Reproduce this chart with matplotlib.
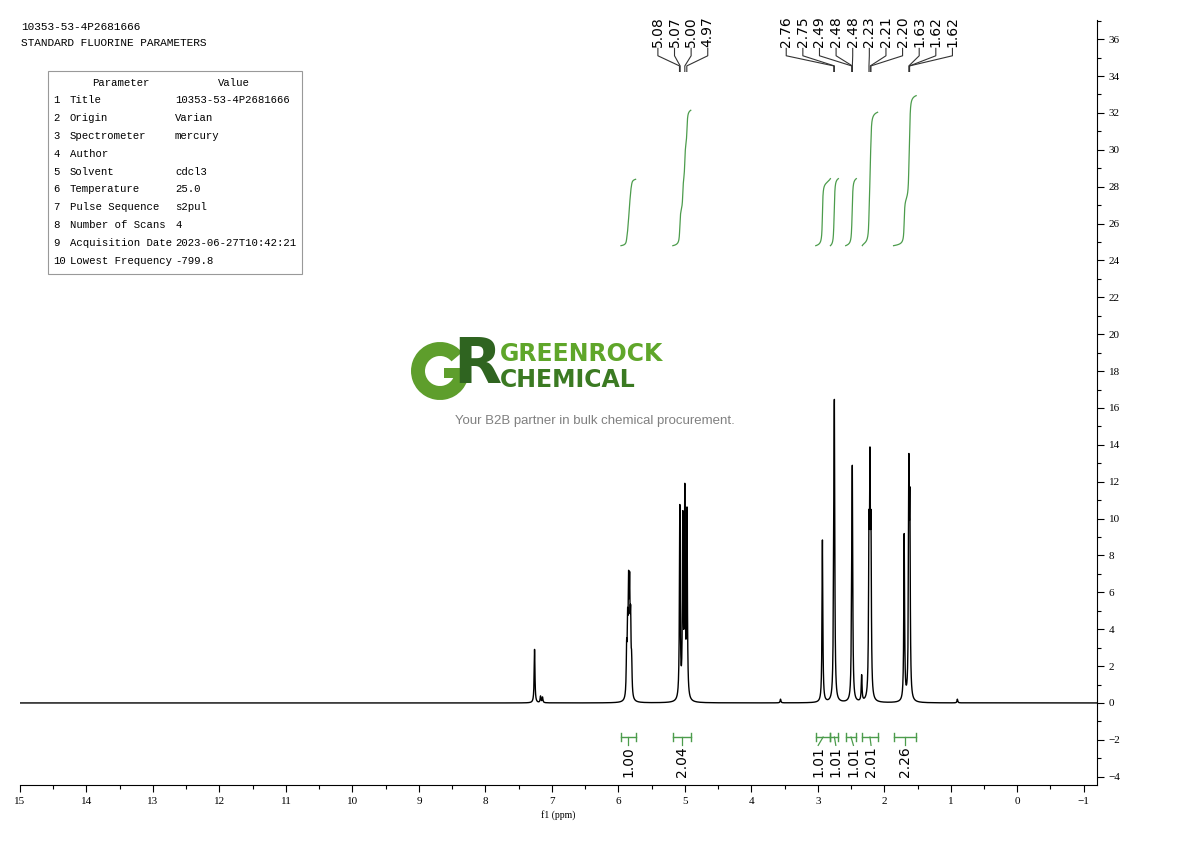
import numpy as np
import matplotlib.pyplot as plt
from matplotlib.patches import Rectangle, Wedge
from matplotlib.ticker import MultipleLocator

# peak list (ppm, height)
peak_ppm = [7.26, 7.17, 7.14, 3.56,
            5.875, 5.86, 5.845, 5.83, 5.815, 5.80,
            5.075, 5.03, 5.00, 4.967,
            2.93, 2.76, 2.75, 2.49, 2.48, 2.34,
            2.23, 2.215, 2.20, 1.70, 1.63, 1.615, 0.90]
peak_height = [2.9, 0.35, 0.3, 0.2,
               2.4, 3.4, 5.3, 5.2, 3.7, 1.7,
               10.4, 9.5, 10.9, 10.0,
               8.8, 5.7, 14.5, 4.0, 11.5, 1.4,
               8.0, 11.0, 8.0, 9.0, 11.7, 9.5, 0.2]

# labels on top (peak picking)
top_ppm = [5.08, 5.07, 5.00, 4.97, 2.76, 2.75, 2.49, 2.48, 2.48,
           2.23, 2.21, 2.20, 1.63, 1.62, 1.62]

# integral regions
int_start = [5.96, 5.18, 3.03, 2.81, 2.58, 2.33, 1.86]
int_end = [5.74, 4.91, 2.81, 2.69, 2.42, 2.10, 1.52]
int_value = [1.00, 2.04, 1.01, 1.01, 1.01, 2.01, 2.26]

param_names = ['Title', 'Origin', 'Spectrometer', 'Author', 'Solvent',
               'Temperature', 'Pulse Sequence', 'Number of Scans',
               'Acquisition Date', 'Lowest Frequency']
param_values = ['10353-53-4P2681666', 'Varian', 'mercury', '', 'cdcl3',
                '25.0', 's2pul', '4', '2023-06-27T10:42:21', '-799.8']

GREEN = '#4c9c4c'
SERIF = 'Liberation Serif'
MONO = 'Liberation Mono'


def spectrum(x, w=0.007):
    y = np.zeros_like(x)
    for p, h in zip(peak_ppm, peak_height):
        y += h * w ** 2 / ((x - p) ** 2 + w ** 2)
    return y


def spread(pos, gap):
    groups = [[p] for p in pos]
    merged = True
    while merged:
        merged = False
        for i in range(len(groups) - 1):
            a, b = groups[i], groups[i + 1]
            low_a = np.mean(a) - (len(a) - 1) * gap / 2
            high_b = np.mean(b) + (len(b) - 1) * gap / 2
            if low_a - high_b < gap:
                groups[i] = a + b
                del groups[i + 1]
                merged = True
                break
    out = []
    for g in groups:
        c = np.mean(g)
        n = len(g)
        out += [c + (n - 1) * gap / 2 - k * gap for k in range(n)]
    return out


fig = plt.figure(figsize=(11.9, 8.41), dpi=100)
ax = fig.add_axes([20 / 1190, 1 - 785 / 841, 1077 / 1190, 765 / 841])

x = np.arange(-1.2, 15.0, 0.0005)
y = spectrum(x)
ax.plot(x, y, color='black', lw=1.0)

# integrals
for a, b, v in zip(int_start, int_end, int_value):
    m = (x <= a) & (x >= b)
    xs = x[m][::-1]
    cum = np.cumsum(y[m][::-1])
    cum = cum / cum[-1]
    ax.plot(xs, 24.8 + cum * v * 3.6, color=GREEN, lw=0.9)
    ax.plot([a, b], [-1.85, -1.85], color=GREEN, lw=1.0)
    for e in (a, b):
        ax.plot([e, e], [-1.62, -2.08], color=GREEN, lw=1.0)

centers = [(a + b) / 2 for a, b in zip(int_start, int_end)]
for c, lx, v in zip(centers, spread(centers, 0.265), int_value):
    ax.plot([c, lx], [-1.85, -2.3], color=GREEN, lw=0.9)
    ax.text(lx, -2.35, f'{v:.2f}', rotation=90, ha='center', va='top',
            fontsize=10, color='black')

# peak labels
for p, lx in zip(top_ppm, spread(top_ppm, 0.25)):
    ax.plot([lx, lx, p, p], [35.5, 35.1, 34.55, 34.25], color='#333333', lw=0.8)
    ax.text(lx, 35.6, f'{p:.2f}', rotation=90, ha='center', va='bottom',
            fontsize=10, color='black')

ax.set_xlim(15.0, -1.2)
ax.set_ylim(-4.45, 37.04)
for s in ('top', 'left'):
    ax.spines[s].set_visible(False)
ax.yaxis.tick_right()
ax.xaxis.set_major_locator(MultipleLocator(1))
ax.xaxis.set_minor_locator(MultipleLocator(0.5))
ax.yaxis.set_major_locator(MultipleLocator(2))
ax.yaxis.set_minor_locator(MultipleLocator(1))
ax.tick_params(which='both', direction='out', labelsize=8, width=0.8)
ax.tick_params(which='major', length=5)
ax.tick_params(which='minor', length=3)
for lab in ax.get_xticklabels() + ax.get_yticklabels():
    lab.set_fontfamily(SERIF)
ax.set_xlabel('f1 (ppm)', fontsize=7, fontfamily=SERIF, labelpad=3)

# header and parameter table
fig.text(21 / 1190, 1 - 27 / 841, '10353-53-4P2681666', fontsize=8,
         fontfamily=MONO, va='center')
fig.text(21 / 1190, 1 - 43 / 841, 'STANDARD FLUORINE PARAMETERS', fontsize=8,
         fontfamily=MONO, va='center')
fig.add_artist(Rectangle((48 / 1190, 1 - 274 / 841), 254 / 1190, 203 / 841,
                         transform=fig.transFigure, fill=False,
                         edgecolor='#999999', lw=0.8))
fig.text(121 / 1190, 1 - 83 / 841, 'Parameter', fontsize=7.7, fontfamily=MONO,
         ha='center', va='center')
fig.text(234 / 1190, 1 - 83 / 841, 'Value', fontsize=7.7, fontfamily=MONO,
         ha='center', va='center')
for i, (n, v) in enumerate(zip(param_names, param_values)):
    yy = 1 - (100 + i * 17.9) / 841
    fig.text(53 / 1190, yy, str(i + 1), fontsize=7.7, fontfamily=MONO, va='center')
    fig.text(70 / 1190, yy, n, fontsize=7.7, fontfamily=MONO, va='center')
    fig.text(175 / 1190, yy, v, fontsize=7.7, fontfamily=MONO, va='center')

# watermark logo: G drawn as a ring, R as text
lax = fig.add_axes([405 / 1190, 1 - 405 / 841, 100 / 1190, 70 / 841])
lax.set_xlim(405, 505)
lax.set_ylim(841 - 405, 841 - 335)
lax.axis('off')
lax.add_patch(Wedge((440, 841 - 371), 29, 40, 360, width=14,
                    color='#5e9e2c', lw=0))
lax.add_patch(Rectangle((444, 841 - 378), 25, 10.5, color='#5e9e2c', lw=0))
lax.text(477, 841 - 366, 'R', fontsize=45, fontweight='bold',
         color='#2f6420', ha='center', va='center')
fig.text(500 / 1190, 1 - 361 / 841, 'GREENROCK', fontsize=17, fontweight='bold',
         color='#5fa62a', ha='left', va='baseline')
fig.text(500 / 1190, 1 - 387 / 841, 'CHEMICAL', fontsize=17, fontweight='bold',
         color='#3b7a22', ha='left', va='baseline')
fig.text(595 / 1190, 1 - 421 / 841,
         'Your B2B partner in bulk chemical procurement.', fontsize=9.5,
         fontfamily='Liberation Sans', color='#808080', ha='center', va='center')

fig.savefig('out.png', dpi=100)
